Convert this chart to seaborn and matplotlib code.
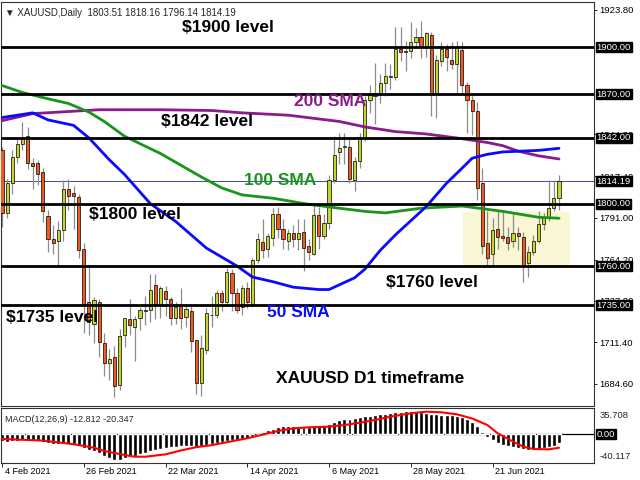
import numpy as np
import pandas as pd
import seaborn as sns
import matplotlib.pyplot as plt
import matplotlib.transforms as mtransforms
from matplotlib.patches import Rectangle

sns.set_style("white")
plt.rcParams['font.family'] = ['Liberation Sans', 'DejaVu Sans']

# daily bars, index 0 = 4 Feb 2021 ... index 109 = 8 Jul 2021
date_ticks = [0, 16, 32, 48, 64, 80, 96]
date_labels = ['4 Feb 2021', '26 Feb 2021', '22 Mar 2021', '14 Apr 2021',
               '6 May 2021', '28 May 2021', '21 Jun 2021']

opens = [1834, 1794, 1813, 1830, 1838, 1843, 1826, 1826, 1820, 1792,
         1777, 1776, 1783, 1809, 1807, 1804, 1771, 1737, 1723, 1737,
         1711, 1698, 1702, 1684, 1716, 1726, 1721, 1727, 1731, 1732,
         1748, 1735, 1744, 1739, 1727, 1736, 1727.5, 1731, 1712.5, 1685,
         1706, 1729, 1729, 1743, 1737, 1755.5, 1742.5, 1734, 1746, 1736,
         1764, 1775.5, 1771, 1778, 1793.5, 1784, 1776, 1781, 1777, 1782,
         1773, 1768, 1792.5, 1779, 1787.5, 1815, 1833, 1836, 1836, 1815,
         1827, 1842, 1866, 1869, 1870.5, 1877, 1881, 1881, 1899, 1897,
         1897.5, 1903.5, 1906.5, 1900.5, 1908, 1871, 1891, 1899, 1892, 1889,
         1898, 1876, 1866, 1859, 1813, 1775, 1768, 1783.5, 1779, 1778.5,
         1776, 1781, 1778.5, 1762, 1769, 1776, 1787, 1791, 1797, 1803.51]
highs = [1836, 1816, 1834, 1842, 1852, 1849, 1829, 1828, 1823, 1796,
         1786, 1789, 1815, 1816, 1811, 1806, 1775, 1760, 1740, 1739,
         1717, 1707, 1709, 1720, 1727, 1739, 1728, 1734, 1741, 1755,
         1755, 1747, 1747, 1740, 1737, 1746, 1735, 1736, 1713, 1716,
         1733, 1741, 1745, 1745, 1759, 1758, 1746, 1748, 1750, 1765,
         1781, 1790, 1781, 1797, 1798, 1790, 1784, 1786, 1790, 1790,
         1777, 1799, 1798, 1793, 1818, 1843, 1845, 1845, 1842, 1830,
         1845, 1869, 1876, 1890, 1883, 1890, 1889, 1913, 1913, 1904,
         1916, 1912, 1917, 1910, 1910, 1895, 1903, 1902, 1903, 1904,
         1903, 1878, 1870, 1865, 1823, 1795, 1791, 1795, 1795, 1785,
         1793, 1785, 1782, 1773, 1780, 1795, 1794, 1815, 1815, 1818.16]
lows = [1785, 1791, 1806, 1826, 1834, 1822, 1809, 1812, 1788, 1769,
        1768, 1760, 1776, 1796, 1784, 1765, 1717, 1716, 1711, 1702,
        1690, 1687, 1676, 1681, 1708, 1716, 1699, 1719, 1722, 1724,
        1726, 1727, 1728, 1722, 1723, 1720, 1721, 1705, 1678, 1677,
        1704, 1721, 1727, 1731, 1735, 1731, 1730, 1729, 1733, 1734,
        1762, 1765, 1766, 1773, 1778, 1771, 1770, 1772, 1770, 1757,
        1764, 1767, 1771, 1777, 1784, 1813, 1825, 1825, 1813, 1808,
        1823, 1840, 1858, 1851, 1864, 1869, 1873, 1879, 1891, 1885,
        1893, 1900, 1893, 1894, 1856, 1855, 1888, 1885, 1886, 1870,
        1870, 1845, 1844, 1802, 1768, 1760, 1760, 1771, 1776, 1770,
        1772, 1770, 1750, 1753, 1767, 1775, 1783, 1789, 1795, 1796.14]
closes = [1794, 1813, 1830, 1838, 1842, 1826, 1824, 1819, 1795, 1777,
          1775, 1783, 1809, 1805, 1805, 1770, 1735, 1724, 1738, 1711.5,
          1698, 1700.5, 1683, 1715, 1726.5, 1722.5, 1726, 1732, 1732, 1745,
          1736, 1746, 1739, 1727, 1734, 1727, 1732.5, 1712, 1685, 1707.5,
          1730, 1728.5, 1742.5, 1737, 1756, 1743, 1732, 1746, 1737, 1764,
          1777, 1770.5, 1779, 1793.5, 1784, 1777, 1781, 1777, 1781, 1771.5,
          1769, 1792.5, 1779, 1787.5, 1815, 1831, 1835.5, 1836.5, 1816, 1827,
          1842, 1866, 1869.5, 1870.5, 1877, 1881.5, 1881, 1899, 1897, 1897,
          1903, 1906.5, 1900.5, 1909, 1871, 1891.5, 1899, 1893.5, 1889, 1900,
          1876, 1866, 1859, 1810, 1773, 1765, 1783, 1778.5, 1778, 1775,
          1781, 1779, 1761, 1769, 1776, 1787, 1791.5, 1797, 1803.3, 1814.19]

# moving averages at selected bars
sma50_idx = [0, 6, 9, 14, 17, 21, 24, 29, 34, 40, 46, 49, 53, 57, 62, 64,
             67, 69, 71, 74, 77, 83, 87, 90, 92, 95, 98, 105, 109]
sma50_val = [1855, 1858, 1853.5, 1850, 1842, 1828, 1818.5, 1800, 1788.5,
             1771.5, 1760, 1753, 1750, 1746.5, 1745, 1745, 1749.5, 1752.5,
             1758, 1770, 1780, 1798, 1813, 1822.5, 1829, 1831.5, 1833,
             1834, 1835.3]
sma100_idx = [0, 4, 9, 13, 17, 20, 24, 31, 39, 43, 47, 53, 60, 66, 71, 75,
              82, 90, 98, 105, 109]
sma100_val = [1875.5, 1871, 1867, 1864, 1858.5, 1852.5, 1843, 1832, 1817,
              1810, 1805.5, 1803.4, 1799.5, 1797, 1795, 1794, 1797, 1798.4,
              1795, 1791.2, 1790.6]
sma200_idx = [0, 6, 19, 31, 41, 47, 56, 66, 71, 77, 83, 90, 95, 98, 101,
              105, 109]
sma200_val = [1853, 1857.5, 1860, 1860, 1859.5, 1858, 1856.5, 1852.5, 1849,
              1846, 1844.5, 1841.5, 1839, 1837, 1833.5, 1830.5, 1828.5]

macd_main = [-10.5, -11, -10.5, -9.5, -9, -9.5, -10, -10.5, -12, -13.5,
             -14.5, -15, -14, -14, -14.5, -17, -21, -24, -26, -29,
             -33, -36, -39.5, -38.5, -36.5, -34, -32.5, -30.5, -28.5, -26,
             -24, -22, -21, -20, -19, -18, -17, -17.5, -19, -18,
             -16, -14.5, -13, -12, -10.5, -9, -8.5, -7, -6.5, -3.5,
             0.5, 3.5, 6, 8.5, 11, 12, 12.5, 12, 11.5, 11,
             11, 12, 12, 12.5, 15, 18.5, 21.5, 23, 23.5, 24,
             25.5, 27, 28, 29.5, 30.5, 31.5, 32.5, 33.5, 34.5, 35,
             35.7, 35.5, 34.5, 32.5, 31.5, 31, 30, 29.5, 28.5, 27,
             25.5, 23, 18.5, 12, 3, -4, -9, -13, -16, -18,
             -19.5, -21, -22.5, -23.8, -23.5, -22.5, -21, -19.5, -17, -12.812]
sig_idx = [0, 8, 14, 18, 20, 24, 26, 28, 32, 35, 38, 41, 44, 48, 51, 54,
           57, 60, 64, 67, 70, 73, 76, 80, 83, 86, 89, 92, 95, 97, 100,
           102, 104, 107, 109]
sig_val = [-7, -9.6, -15, -20.3, -25.3, -31.4, -33.9, -34, -30.4, -24.5,
           -19.5, -16.5, -12, -6, -0.5, 5, 9, 10.6, 11.6, 14, 17.6, 21.7,
           26.7, 31.8, 34.3, 33.3, 30.3, 24, 14, 1.5, -11, -18.7, -22.3,
           -22.8, -20.347]

levels = [1900, 1870, 1842, 1800, 1760, 1735]
last_price = 1814.19
price_ticks = [1923.8, 1844.2, 1817.4, 1791.0, 1764.2, 1737.8, 1711.4, 1684.6]

bull, bear = '#c4d62c', '#f05a22'

fig = plt.figure(figsize=(6.4, 4.8), dpi=100)
ax = fig.add_axes([1/640, 1 - 406/480, 593/640, 404/480])
ax2 = fig.add_axes([1/640, 1 - 463/480, 593/640, 54.7/480])

# consolidation highlight
ax.add_patch(Rectangle((90.2, 1760), 21, 34.8, color='#f8f6d3', lw=0, zorder=0))

ax.axhline(last_price, color='#4646a6', lw=0.7, zorder=1)

idx = np.arange(len(closes))
o = np.array(opens)
c = np.array(closes)
ax.vlines(idx, lows, highs, color='#8c8c8c', lw=0.9, zorder=2)
ax.bar(idx, np.maximum(np.abs(c - o), 0.4), bottom=np.minimum(o, c), width=0.62,
       color=np.where(c >= o, bull, bear), edgecolor='black', linewidth=0.5, zorder=3)

sns.lineplot(x=sma200_idx, y=sma200_val, ax=ax, color='#8b1a8b', lw=2, zorder=4)
sns.lineplot(x=sma100_idx, y=sma100_val, ax=ax, color='#1a941a', lw=2, zorder=4)
sns.lineplot(x=sma50_idx, y=sma50_val, ax=ax, color='#0a0aff', lw=2, zorder=4)

for lv in levels:
    ax.axhline(lv, color='black', lw=2, zorder=5)

bold = dict(fontsize=12.5, fontweight='bold', ha='center', va='center', zorder=6)
ax.text(44.2, 1912.3, '$1900 level', color='black', **bold)
ax.text(40.1, 1852.2, '$1842 level', color='black', **bold)
ax.text(26.0, 1792.7, '$1800 level', color='black', **bold)
ax.text(84.1, 1749.2, '$1760 level', color='black', **bold)
ax.text(9.8, 1726.8, '$1735 level', color='black', **bold)
ax.text(64.2, 1865.0, '200 SMA', color='#8b1a8b', **bold)
ax.text(54.4, 1814.8, '100 SMA', color='#1a941a', **bold)
ax.text(58.0, 1730.0, '50 SMA', color='#0a0aff', **bold)
ax.text(72.0, 1688.4, 'XAUUSD D1 timeframe', color='black', **bold)

ax.text(0.007, 0.985, '\u25bc XAUUSD,Daily  1803.51 1818.16 1796.14 1814.19',
        transform=ax.transAxes, fontsize=7, va='top', ha='left')

ax.set_xlim(-0.2, 115.85)
ax.set_ylim(1670.5, 1928.9)
ax.set_xticks([])
ax.yaxis.tick_right()
ax.set_yticks(price_ticks)
ax.set_yticklabels([f'{v:.2f}' for v in price_ticks])
ax.tick_params(axis='y', direction='out', length=2.5, width=0.6, pad=1,
               labelsize=6.8, colors='black')
ax.set_xlabel('')
ax.set_ylabel('')

box = dict(boxstyle='square,pad=0.05', fc='black', ec='black')
for v in levels + [last_price]:
    ax.annotate(f'{v:.2f}', xy=(1, v), xycoords=ax.get_yaxis_transform(),
                xytext=(2, 0), textcoords='offset points', ha='left', va='center',
                color='white', fontsize=6.8, bbox=box, annotation_clip=False, zorder=10)

# MACD window
ax2.bar(idx, macd_main, width=0.78, color='black', zorder=2)
ax2.axhline(0, color='black', lw=0.9, zorder=1)
sns.lineplot(x=sig_idx, y=sig_val, ax=ax2, color='#ff0000', lw=1.5, zorder=3)
ax2.text(0.006, 0.80, 'MACD(12,26,9) -12.812 -20.347', transform=ax2.transAxes,
         fontsize=6.5, va='center', ha='left')
ax2.set_xlim(-0.2, 115.85)
ax2.set_ylim(-43.5, 39.4)
ax2.set_yticks([])
ax2.set_xlabel('')
ax2.set_ylabel('')
yt = ax2.get_yaxis_transform()
ax2.text(1.01, 35.708, '35.708', transform=yt, fontsize=6.8, va='top', ha='left')
ax2.text(1.01, -40.117, '-40.117', transform=yt, fontsize=6.8, va='bottom', ha='left')
ax2.annotate('0.00', xy=(1, 0), xycoords=yt, xytext=(2, 0), textcoords='offset points',
             ha='left', va='center', color='white', fontsize=6.8, bbox=box,
             annotation_clip=False)

ax2.set_xticks(date_ticks)
ax2.set_xticklabels(date_labels, ha='left')
ax2.tick_params(axis='x', direction='out', length=3, width=0.6, pad=0,
                labelsize=6.5, colors='black', bottom=True)
shift = mtransforms.ScaledTranslation(2.5/100, 0, fig.dpi_scale_trans)
for lab in ax2.get_xticklabels():
    lab.set_transform(lab.get_transform() + shift)

for a in (ax, ax2):
    for s in a.spines.values():
        s.set_color('#333333')
        s.set_linewidth(0.8)

fig.savefig('out.png', dpi=100)
